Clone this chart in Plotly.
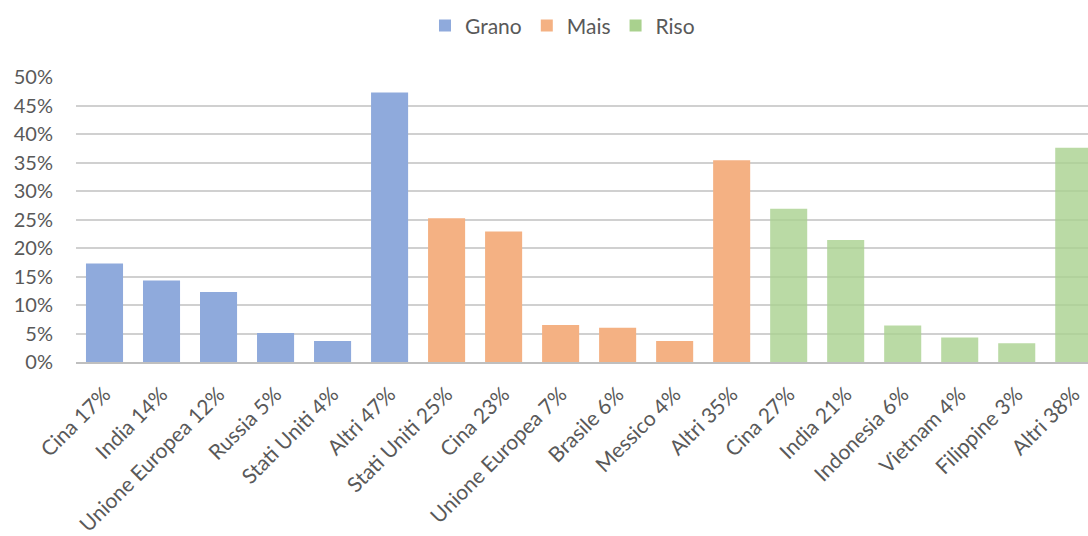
import plotly.graph_objects as go

# Quota dei principali produttori per cereale (%)
grano_paesi = ["Cina", "India", "Unione Europea", "Russia", "Stati Uniti", "Altri"]
grano_valori = [17.3, 14.3, 12.3, 5.1, 3.7, 47.3]

mais_paesi = ["Stati Uniti", "Cina", "Unione Europea", "Brasile", "Messico", "Altri"]
mais_valori = [25.2, 22.9, 6.5, 6.0, 3.7, 35.4]

riso_paesi = ["Cina", "India", "Indonesia", "Vietnam", "Filippine", "Altri"]
riso_valori = [26.9, 21.4, 6.4, 4.3, 3.3, 37.6]

y_ticks = [0, 5, 10, 15, 20, 25, 30, 35, 40, 45, 50]
y_tick_text = [f"{v}%" for v in y_ticks]


def etichette(paesi, valori):
    return [f"{p} {int(v + 0.5)}%" for p, v in zip(paesi, valori)]


serie = [
    ("Grano", grano_paesi, grano_valori, "#8FAADC", 1.0),
    ("Mais", mais_paesi, mais_valori, "#F4B183", 1.0),
    ("Riso", riso_paesi, riso_valori, "#A9D18E", 0.8),
]

fig = go.Figure()
categorie = []
for nome, paesi, valori, colore, opac in serie:
    x = etichette(paesi, valori)
    categorie += x
    fig.add_trace(go.Bar(
        name=nome, x=x, y=valori, width=0.65,
        marker=dict(color=colore, opacity=opac, line=dict(width=0)),
    ))

font_fam = "Lato, 'Open Sans', sans-serif"
grigio = "#595959"

fig.update_layout(
    width=1088, height=536,
    margin=dict(l=76, r=0, t=77, b=174),
    barmode="overlay",
    plot_bgcolor="white", paper_bgcolor="white",
    font=dict(family=font_fam, size=20, color=grigio),
    legend=dict(orientation="h", x=0.517, xanchor="center", xref="container",
                y=0.99, yanchor="top", yref="container",
                font=dict(size=21, color=grigio),
                itemwidth=30, itemsizing="constant", tracegroupgap=0),
    showlegend=True,
)

fig.update_xaxes(
    type="category", categoryorder="array", categoryarray=categorie,
    range=[-0.5, 17.25], tickangle=-45, automargin=False,
    showline=True, linecolor="#BFBFBF", linewidth=1.5,
    showgrid=False, ticks="", ticklabelstandoff=10,
    tickfont=dict(size=21, color=grigio),
)
fig.update_yaxes(
    range=[0, 50], tickvals=y_ticks, ticktext=y_tick_text,
    showgrid=True, gridcolor="#D0D0D0", gridwidth=1.5,
    zeroline=False, showline=False, ticks="", automargin=False,
    ticklabelstandoff=22, tickfont=dict(size=20, color=grigio),
)

fig.write_html("out.html")
